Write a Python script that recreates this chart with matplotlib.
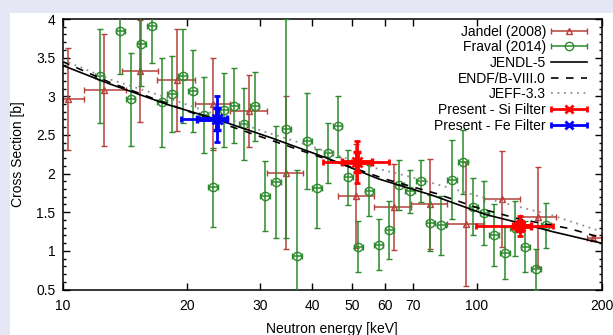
import numpy as np
import matplotlib.pyplot as plt
from matplotlib.patches import Rectangle
from matplotlib.ticker import FixedLocator, NullLocator, MultipleLocator
from matplotlib.container import ErrorbarContainer
from matplotlib.legend_handler import HandlerErrorbar

plt.rcParams['font.family'] = ['Liberation Sans', 'DejaVu Sans']
plt.rcParams['font.size'] = 10

# Jandel (2008): bin centre, bin edges, cross section and its uncertainty
jandel_E = [10.3, 12.6, 15.4, 18.9, 23.1, 28.2, 34.6, 51.2, 63.0, 77.0, 94.3, 114.8, 140.8, 191.0]
jandel_Elo = [10.05, 11.3, 13.9, 16.95, 20.9, 25.4, 31.2, 46.2, 56.4, 69.3, 84.9, 104.0, 127.0, 185.0]
jandel_Ehi = [11.3, 14.2, 17.0, 20.9, 25.4, 31.2, 38.0, 56.6, 69.3, 84.9, 104.0, 127.0, 155.0, 200.0]
jandel_sig = [2.96, 3.08, 3.33, 3.21, 2.90, 2.81, 2.01, 1.71, 1.57, 1.61, 1.35, 1.67, 1.44, 1.17]
jandel_dsig = [0.66, 0.72, 0.66, 0.66, 0.59, 0.47, 0.99, 0.67, 0.56, 0.58, 0.80, 0.62, 0.65, 0.03]

# Fraval (2014)
fraval_E = [12.3, 13.8, 14.6, 15.5, 16.4, 17.4, 18.4, 19.5, 20.6, 21.9, 23.1, 24.5, 26.0, 27.4,
            29.1, 30.8, 32.8, 34.7, 36.8, 39.0, 41.2, 43.8, 46.2, 49.0, 51.7, 55.0, 58.0, 61.5,
            65.0, 69.0, 73.2, 77.3, 82.1, 87.1, 92.6, 98.1, 104.3, 110.1, 117.0, 123.5, 131.0,
            139.0, 147.0]
fraval_dE = [0.32, 0.36, 0.38, 0.40, 0.43, 0.45, 0.48, 0.51, 0.54, 0.57, 0.60, 0.64, 0.68, 0.71,
             0.76, 0.80, 0.85, 0.90, 0.96, 1.0, 1.1, 1.1, 1.2, 1.3, 1.3, 1.4, 1.5, 1.6,
             1.7, 1.8, 1.9, 2.0, 2.1, 2.3, 2.4, 2.6, 2.7, 2.9, 3.0, 3.2, 3.4,
             3.6, 3.8]
fraval_sig = [3.26, 3.84, 2.96, 3.68, 3.91, 2.92, 3.03, 3.26, 3.07, 2.76, 1.82, 2.82, 2.88, 2.64,
              2.87, 1.71, 1.89, 2.58, 0.93, 2.42, 1.81, 2.27, 2.61, 1.95, 1.05, 1.78, 1.08, 1.27,
              1.85, 1.77, 1.90, 1.36, 1.33, 1.92, 2.15, 1.57, 1.49, 1.20, 0.97, 1.29, 1.05,
              0.76, 1.33]
fraval_dsig = [0.61, 0.55, 0.60, 0.55, 0.48, 0.57, 0.49, 0.61, 0.53, 0.49, 0.51, 0.48, 0.48, 0.47,
               0.45, 0.45, 0.72, 1.42, 1.12, 0.62, 0.51, 0.39, 0.40, 0.36, 0.33, 0.33, 0.33, 0.37,
               0.32, 0.28, 0.27, 0.36, 0.38, 0.51, 0.42, 0.37, 0.41, 0.40, 0.34, 0.36, 0.33,
               0.27, 0.29]

# evaluated libraries
jendl_E = [10, 13, 18, 23.6, 32, 43.5, 58, 78, 105, 127, 152, 200]
jendl_sig = [3.40, 3.16, 2.89, 2.70, 2.46, 2.20, 1.93, 1.72, 1.47, 1.36, 1.25, 1.10]
endf_E = [10, 13, 18, 23.6, 30, 40, 50, 60, 80, 100, 127, 167, 200]
endf_sig = [3.45, 3.18, 2.90, 2.67, 2.48, 2.25, 2.08, 1.93, 1.74, 1.56, 1.41, 1.29, 1.17]
jeff_E = [10, 13, 17, 23.6, 30, 40, 56, 70, 84, 105, 152, 200]
jeff_sig = [3.47, 3.22, 3.02, 2.76, 2.56, 2.35, 2.08, 1.95, 1.83, 1.68, 1.46, 1.25]

# present measurements: total and inner (statistical) uncertainties
si_E = [51.5, 127.0]
si_Elo = [42.6, 99.5]
si_Ehi = [61.3, 153.0]
si_sig = [2.15, 1.32]
si_dsig = [0.27, 0.13]
si_Elo_in = [47.3, 122.0]
si_Ehi_in = [55.8, 135.0]
si_dsig_in = [0.13, 0.06]

fe_E = [23.6]
fe_Elo = [19.3]
fe_Ehi = [25.0]
fe_sig = [2.71]
fe_dsig = [0.30]
fe_Elo_in = [21.1]
fe_Ehi_in = [24.9]
fe_dsig_in = [0.14]

xticks = [10, 20, 30, 40, 50, 60, 70, 100, 200]
yticks = [0.5, 1, 1.5, 2, 2.5, 3, 3.5, 4]
ytick_labels = ['0.5', '1', '1.5', '2', '2.5', '3', '3.5', '4']

c_jandel = '#b5403c'
c_fraval = '#2b8a2b'


def asym(E, lo, hi):
    E = np.asarray(E)
    return [E - np.asarray(lo), np.asarray(hi) - E]


fig = plt.figure(figsize=(6.13, 3.35), dpi=100)
fig.patch.set_facecolor('#e5e8f4')
fig.patches.append(Rectangle((10 / 613, 0), 1, 322 / 335, transform=fig.transFigure,
                             facecolor='white', edgecolor='none', zorder=-1))
ax = fig.add_axes([62.5 / 613, 45.5 / 335, 539 / 613, 270.5 / 335])
ax.set_zorder(1)

ax.errorbar(jandel_E, jandel_sig, xerr=asym(jandel_E, jandel_Elo, jandel_Ehi), yerr=jandel_dsig,
            fmt='^', ms=5, mfc='none', mec=c_jandel, mew=1, color=c_jandel, ecolor=c_jandel,
            elinewidth=1.1, capsize=2.2, capthick=1.1, zorder=2)
ax.errorbar(fraval_E, fraval_sig, xerr=fraval_dE, yerr=fraval_dsig,
            fmt='o', ms=6, mfc='none', mec=c_fraval, mew=1, color=c_fraval, ecolor=c_fraval,
            elinewidth=1.1, capsize=2.2, capthick=1.1, zorder=3)

l_jendl, = ax.plot(jendl_E, jendl_sig, color='black', lw=1.2, zorder=4)
l_endf, = ax.plot(endf_E, endf_sig, color='black', lw=1.2, dashes=(4.5, 4.5), zorder=4)
l_jeff, = ax.plot(jeff_E, jeff_sig, color='#8f8f8f', lw=1.3, dashes=(1, 2.6), zorder=4)

for E, lo, hi, s, ds, lo_in, hi_in, ds_in, col in [
        (si_E, si_Elo, si_Ehi, si_sig, si_dsig, si_Elo_in, si_Ehi_in, si_dsig_in, '#ff0000'),
        (fe_E, fe_Elo, fe_Ehi, fe_sig, fe_dsig, fe_Elo_in, fe_Ehi_in, fe_dsig_in, '#0000ff')]:
    ax.errorbar(E, s, xerr=asym(E, lo, hi), yerr=ds, fmt='x', ms=7, mew=2, color=col,
                elinewidth=2, capsize=2.5, capthick=2, zorder=5)
    ax.errorbar(E, s, xerr=asym(E, lo_in, hi_in), yerr=ds_in, fmt='none', ecolor=col,
                elinewidth=3.5, capsize=3, capthick=2.5, zorder=5)

ax.set_xscale('log')
ax.set_xlim(10, 200)
ax.set_ylim(0.5, 4)
ax.xaxis.set_major_locator(FixedLocator(xticks))
ax.xaxis.set_minor_locator(NullLocator())
ax.set_xticklabels([str(t) for t in xticks])
ax.yaxis.set_major_locator(FixedLocator(yticks))
ax.yaxis.set_minor_locator(MultipleLocator(0.1))
ax.set_yticklabels(ytick_labels)
ax.tick_params(which='both', direction='in', top=True, right=True, width=1, colors='black')
ax.tick_params(which='major', length=5)
ax.tick_params(which='minor', length=2.5)
ax.tick_params(axis='x', pad=7)
ax.tick_params(axis='y', pad=5)
for sp in ax.spines.values():
    sp.set_linewidth(1.1)

ax.set_xlabel('Neutron energy [keV]')
ax.set_ylabel('Cross Section [b]')
ax.xaxis.set_label_coords(0.5, -0.12)
ax.yaxis.set_label_coords(-0.07, 0.5)

# legend samples drawn gnuplot style: horizontal bar with end caps
def proxy(col, marker, lw, ms, mfc):
    return ax.errorbar([np.nan], [np.nan], xerr=[1], fmt=marker, ms=ms, mfc=mfc, mec=col,
                       mew=lw if marker == 'x' else 1, color=col, ecolor=col,
                       elinewidth=lw, capsize=2.5, capthick=lw)

h_j = proxy(c_jandel, '^', 1.1, 5, 'none')
h_f = proxy(c_fraval, 'o', 1.1, 6, 'none')
h_si = proxy('#ff0000', 'x', 2, 6, 'none')
h_fe = proxy('#0000ff', 'x', 2, 6, 'none')

ax.legend([h_j, h_f, l_jendl, l_endf, l_jeff, h_si, h_fe],
          ['Jandel (2008)', 'Fraval (2014)', 'JENDL-5', 'ENDF/B-VIII.0', 'JEFF-3.3',
           'Present - Si Filter', 'Present - Fe Filter'],
          loc='upper right', bbox_to_anchor=(0.973, 0.979), borderaxespad=0, borderpad=0,
          frameon=False, markerfirst=False, handlelength=2.6, handletextpad=0.35,
          labelspacing=0.12, fontsize=10,
          handler_map={ErrorbarContainer: HandlerErrorbar(xerr_size=1.3)})

fig.savefig('out.png', dpi=100, facecolor=fig.get_facecolor())
